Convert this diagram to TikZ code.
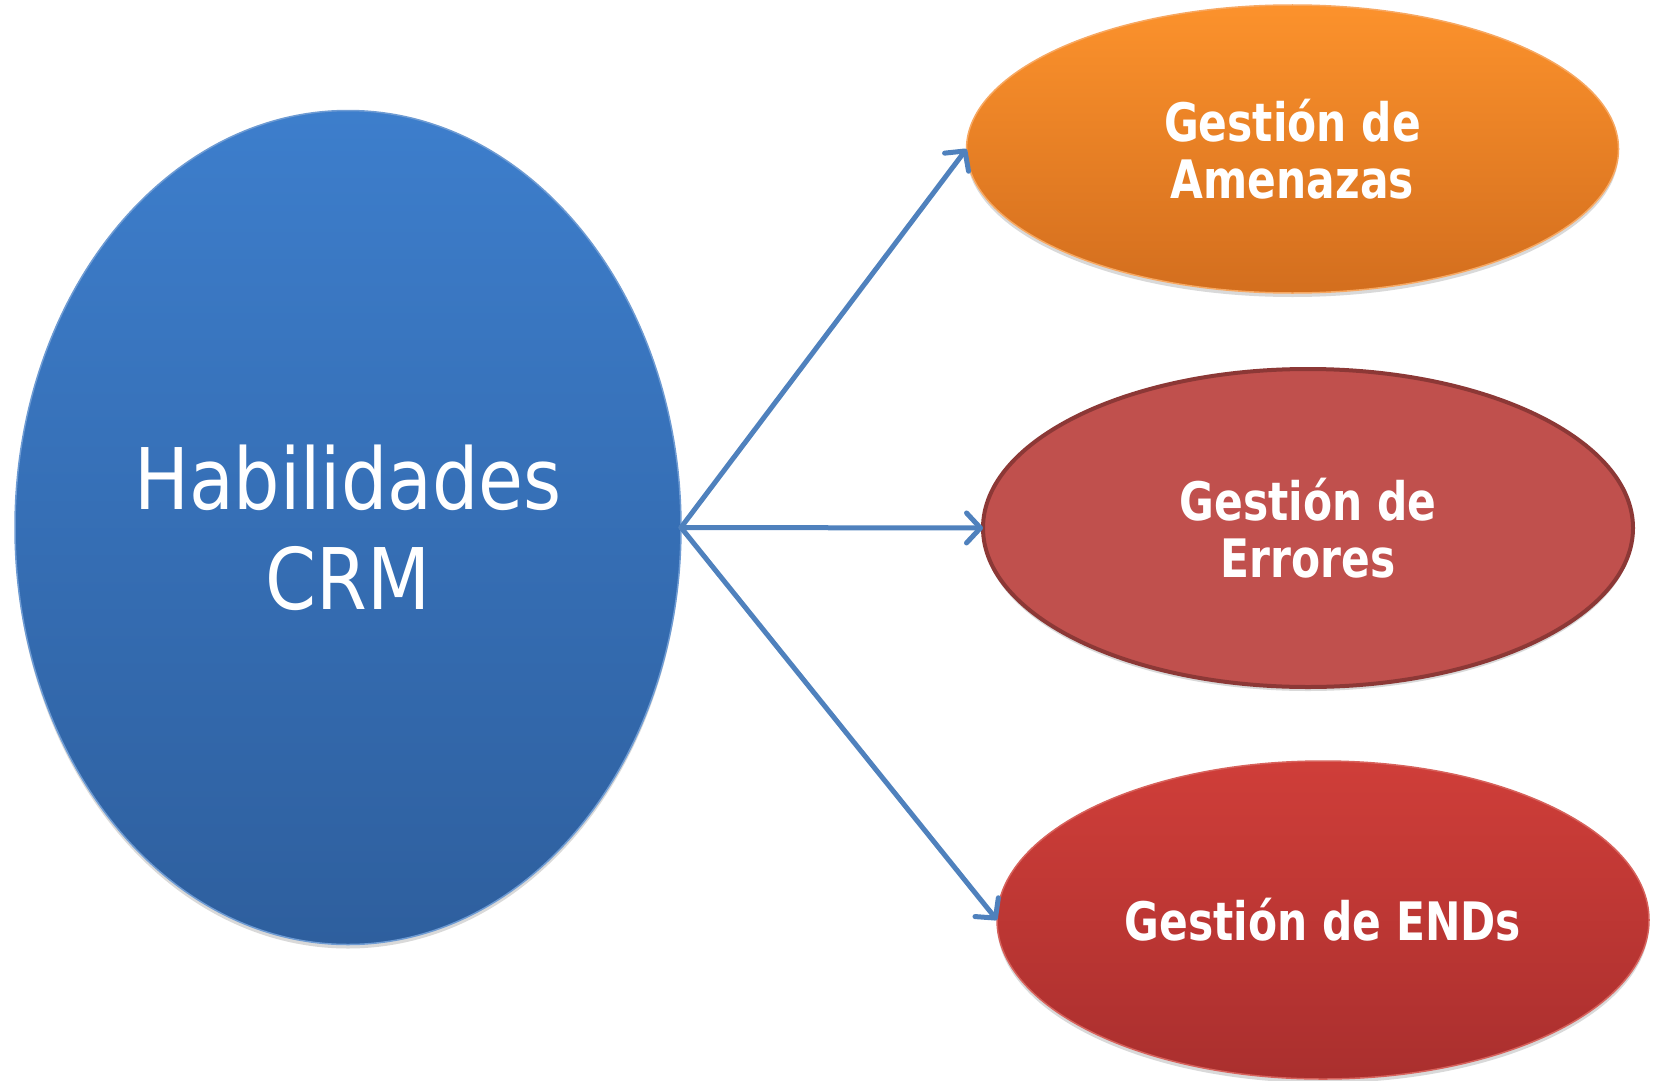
\documentclass[tikz,border=0pt]{standalone}
\usepackage{fontspec}
\usetikzlibrary{shapes.geometric,arrows.meta,shadows}
\newfontfamily\mainf[FakeStretch=0.86]{DejaVu Sans}
\newfontfamily\boldf[FakeStretch=0.80]{DejaVu Sans}
\definecolor{arrowblue}{HTML}{4F81BD}
\definecolor{blueTop}{HTML}{3D7ECC}
\definecolor{blueBot}{HTML}{2E5F9E}
\definecolor{blueLine}{HTML}{6E9BD3}
\definecolor{orTop}{HTML}{FC922C}
\definecolor{orBot}{HTML}{D36E1E}
\definecolor{orLine}{HTML}{F7A862}
\definecolor{midFill}{HTML}{C0504D}
\definecolor{midLine}{HTML}{8C3836}
\definecolor{redTop}{HTML}{CF3E39}
\definecolor{redBot}{HTML}{AA2F2E}
\definecolor{redLine}{HTML}{D7625C}
\tikzset{
  bubble/.style={ellipse, inner sep=0pt, outer sep=0pt, text=white, align=center,
    drop shadow={shadow xshift=0pt, shadow yshift=-4pt, opacity=0.25, fill=black!60}},
  bigtext/.style={font=\mainf\fontsize{85}{100}\selectfont},
  smalltext/.style={font=\boldf\bfseries\fontsize{53}{57}\selectfont},
  conn/.style={draw=arrowblue, line width=5pt, line cap=round,
    -{Straight Barb[length=14pt,width=30pt,round]}}
}
\begin{document}
\begin{tikzpicture}[x=1pt,y=-1pt]
\useasboundingbox (0,0) rectangle (1659,1081);
\node[bubble, bigtext, minimum width=666pt, minimum height=834pt,
  top color=blueTop, bottom color=blueBot, draw=blueLine, line width=1.5pt]
  (crm) at (348,527.5) {Habilidades\\CRM};
\node[bubble, smalltext, minimum width=652pt, minimum height=288pt,
  top color=orTop, bottom color=orBot, draw=orLine, line width=1.5pt]
  (amen) at (1292.5,149) {Gestión de\\Amenazas};
\node[bubble, smalltext, minimum width=650pt, minimum height=318pt,
  fill=midFill, draw=midLine, line width=4pt]
  (err) at (1308,528) {Gestión de\\Errores};
\node[bubble, smalltext, minimum width=652pt, minimum height=318pt,
  top color=redTop, bottom color=redBot, draw=redLine, line width=1.5pt]
  (ends) at (1323,920) {Gestión de ENDs};
\draw[conn, line width=5pt] (crm.east) -- (amen.west);
\draw[conn, line width=5pt] (crm.east) -- (err.west);
\draw[conn, line width=5pt] (crm.east) -- (ends.west);
\end{tikzpicture}
\end{document}
